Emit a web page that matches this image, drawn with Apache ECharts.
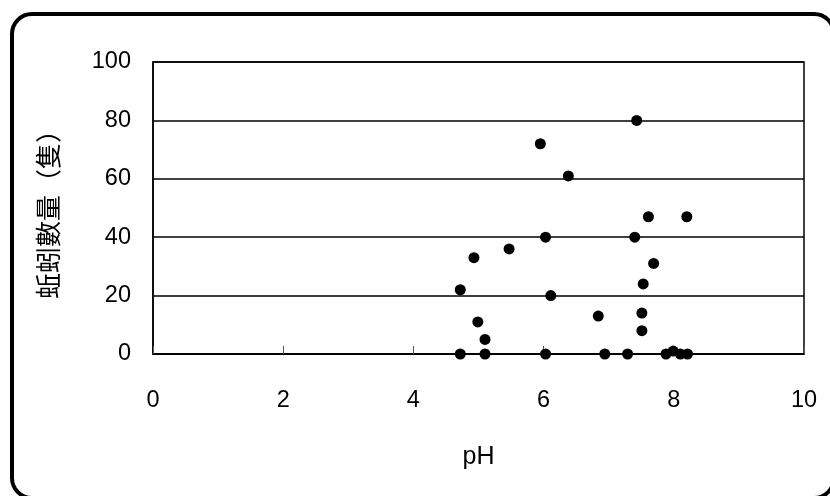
<!DOCTYPE html>
<html>
<head>
<meta charset="utf-8">
<script src="https://cdn.jsdelivr.net/npm/echarts@6/dist/echarts.min.js"></script>
<style>
  html, body { margin: 0; padding: 0; background: #fff; }
  #chart { width: 830px; height: 496px; }
</style>
</head>
<body>
<div id="chart"></div>
<script>
"use strict";

// pH readings and earthworm counts
const phValues = [
  7.43, 5.95, 6.38, 7.61, 8.20, 6.03, 7.40, 5.47, 4.93, 7.69,
  4.72, 6.11, 7.53, 6.84, 7.51, 4.99, 7.51, 5.10, 4.72, 5.10,
  6.03, 6.94, 7.29, 7.88, 7.99, 8.10, 8.21
];
const wormCounts = [
  80, 72, 61, 47, 47, 40, 40, 36, 33, 31,
  22, 20, 24, 13, 14, 11, 8, 5, 0, 0,
  0, 0, 0, 0, 1, 0, 0
];
const xTicks = [0, 2, 4, 6, 8, 10];
const yTicks = [0, 20, 40, 60, 80, 100];

const latin = "Liberation Sans, Arial, sans-serif";
const cjk = "Noto Sans CJK TC, Noto Sans CJK SC, sans-serif";

const chart = echarts.init(document.getElementById("chart"), null, { renderer: "canvas" });

chart.setOption({
  animation: false,
  backgroundColor: "#fff",
  grid: {
    left: 153, right: 26, top: 62, bottom: 142,
    show: true, borderColor: "#000", borderWidth: 1.5
  },
  graphic: [{
    type: "rect",
    shape: { x: 12, y: 14, width: 822, height: 484, r: 20 },
    style: { fill: "none", stroke: "#000", lineWidth: 4 },
    z: 0
  }],
  xAxis: {
    type: "value",
    min: xTicks[0], max: xTicks[xTicks.length - 1], interval: 2,
    name: "pH", nameLocation: "middle", nameGap: 91,
    nameTextStyle: { color: "#000", fontSize: 25, fontFamily: latin },
    axisLine: { lineStyle: { color: "#000", width: 1.5 } },
    axisTick: { inside: true, length: 8, lineStyle: { color: "#555" } },
    axisLabel: { color: "#000", fontSize: 23.5, fontFamily: latin, margin: 35 },
    splitLine: { show: false }
  },
  yAxis: {
    type: "value",
    min: yTicks[0], max: yTicks[yTicks.length - 1], interval: 20,
    name: "蚯蚓數量（隻）", nameLocation: "middle", nameGap: 92,
    nameTextStyle: { color: "#000", fontSize: 26, fontFamily: cjk },
    axisLine: { show: true, lineStyle: { color: "#000", width: 1.5 } },
    axisTick: { show: false },
    axisLabel: { color: "#000", fontSize: 23.5, fontFamily: latin, margin: 22 },
    splitLine: { lineStyle: { color: "#000", width: 1.5 } }
  },
  series: [{
    type: "scatter",
    symbol: "circle",
    symbolSize: 11,
    itemStyle: { color: "#000", opacity: 1 },
    data: phValues.map((ph, i) => [ph, wormCounts[i]])
  }]
});
</script>
</body>
</html>
